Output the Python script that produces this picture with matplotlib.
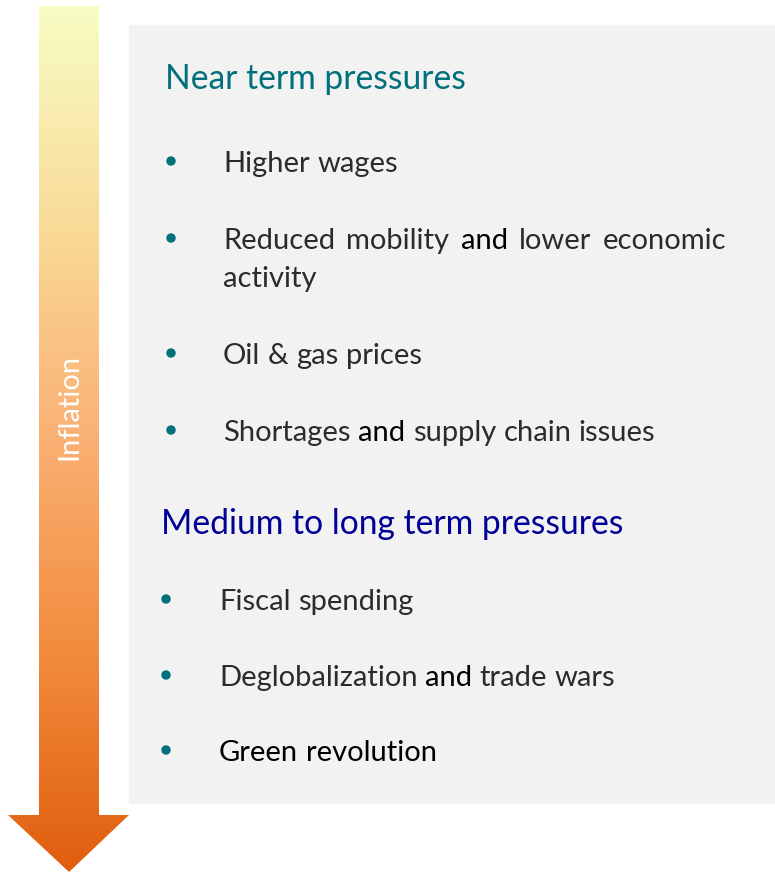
import matplotlib
matplotlib.use("Agg")
import matplotlib.pyplot as plt
import numpy as np
from matplotlib.patches import Polygon, Rectangle, Circle
from matplotlib.colors import LinearSegmentedColormap

# content of the infographic
arrow_label = "Inflation"
headings = ["Near term pressures", "Medium to long term pressures"]
heading_colors = ["#00707A", "#000096"]
# each item is a list of lines, each line a list of (word, emphasised?)
near_items = [
    [[("Higher", 0), ("wages", 0)]],
    [[("Reduced", 0), ("mobility", 0), ("and", 1), ("lower", 0), ("economic", 0)],
     [("activity", 0)]],
    [[("Oil", 0), ("&", 0), ("gas", 0), ("prices", 0)]],
    [[("Shortages", 0), ("and", 1), ("supply", 0), ("chain", 0), ("issues", 0)]],
]
medium_items = [
    [[("Fiscal", 0), ("spending", 0)]],
    [[("Deglobalization", 0), ("and", 1), ("trade", 0), ("wars", 0)]],
    [[("Green", 1), ("revolution", 1)]],
]
gradient_colors = ["#F7FDC4", "#F9DB98", "#FAB073", "#F28B3C", "#DF5E0E"]

W, H = 775, 873
fig = plt.figure(figsize=(W / 100, H / 100), dpi=100)
ax = fig.add_axes([0, 0, 1, 1])
ax.set_xlim(0, W)
ax.set_ylim(H, 0)
ax.axis("off")

FONT = "Lato"

# grey panel
ax.add_patch(Rectangle((129, 25), 646, 778, color="#F2F2F2", zorder=0))

# gradient arrow
arrow = Polygon([(39, 6), (99, 6), (99, 815), (129, 815), (69, 872),
                 (8, 815), (39, 815)], closed=True, facecolor="none",
                edgecolor="none")
ax.add_patch(arrow)
cmap = LinearSegmentedColormap.from_list("infl", gradient_colors)
grad = np.linspace(0, 1, 256).reshape(-1, 1)
im = ax.imshow(grad, cmap=cmap, extent=(8, 129, 872, 6), aspect="auto", zorder=1)
im.set_clip_path(arrow)
ax.text(69, 407, arrow_label, rotation=90, color="white", fontsize=21,
        family=FONT, ha="center", va="center", zorder=3)

fig.canvas.draw()
renderer = fig.canvas.get_renderer()


def word_width(word, size):
    t = ax.text(0, 0, word, fontsize=size, family=FONT)
    w = t.get_window_extent(renderer).width
    t.remove()
    return w


def draw_line(x, y, words, size, right=None):
    widths = [word_width(w, size) for w, _ in words]
    space = word_width("a a", size) - word_width("aa", size)
    if right is not None and len(words) > 1:
        space = (right - x - sum(widths)) / (len(words) - 1)
    cx = x
    for (w, emph), ww in zip(words, widths):
        c = "#000000" if emph else "#2B2B2B"
        ax.text(cx, y, w, fontsize=size, family=FONT, color=c,
                ha="left", va="baseline", zorder=3)
        cx += ww + space


BODY = 21
LINE_GAP = 38


def draw_items(items, y_starts, bullet_x, text_x):
    for item, y0 in zip(items, y_starts):
        ax.add_patch(Circle((bullet_x, y0 - 11), 4, color="#00707A", zorder=3))
        for i, line in enumerate(item):
            right = 726 if (len(item) > 1 and i < len(item) - 1) else None
            draw_line(text_x, y0 + i * LINE_GAP, line, BODY, right=right)


ax.text(165, 89, headings[0], fontsize=24.2, family=FONT, color=heading_colors[0],
        ha="left", va="baseline", zorder=3)
ax.text(161, 534, headings[1], fontsize=24.2, family=FONT, color=heading_colors[1],
        ha="left", va="baseline", zorder=3)

draw_items(near_items, [172, 249, 364, 441], 171, 223)
draw_items(medium_items, [610, 686, 761], 166, 219)

fig.savefig("out.png", dpi=100)
